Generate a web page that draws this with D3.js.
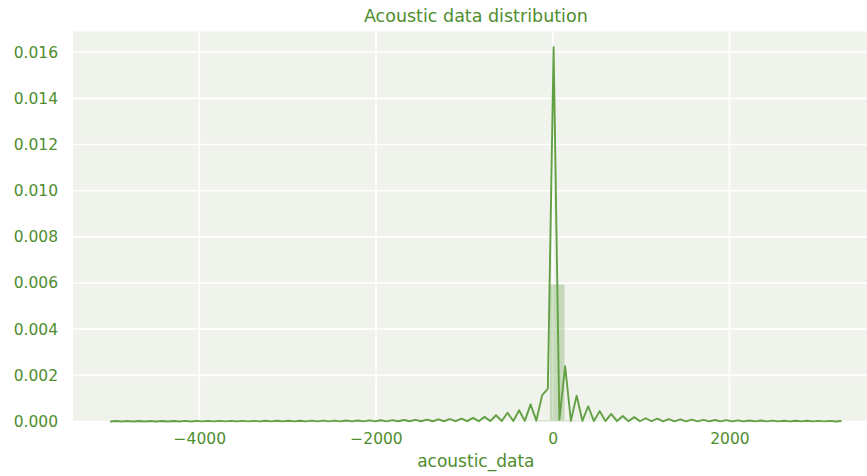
<!DOCTYPE html>
<html>
<head>
<meta charset="utf-8">
<script src="https://cdn.jsdelivr.net/npm/d3@7"></script>
<style>
  body { margin: 0; background: #fff; }
  text { font-family: "DejaVu Sans", sans-serif; fill: #4f8d2f; }
</style>
</head>
<body>
<svg id="chart" width="867" height="476"></svg>
<script>
// kde support: evenly spaced grid
const KDE_START = -5010;
const KDE_STEP = 65.2;
const kdeDensity = [
  0.000003, 0.000022, 0.000003, 0.000022, 0.000003, 0.000023, 0.000003, 0.000023,
  0.000003, 0.000024, 0.000003, 0.000024, 0.000003, 0.000025, 0.000003, 0.000025,
  0.000004, 0.000026, 0.000004, 0.000026, 0.000004, 0.000027, 0.000004, 0.000028,
  0.000004, 0.000029, 0.000004, 0.00003, 0.000005, 0.000031, 0.000005, 0.000032,
  0.000005, 0.000034, 0.000005, 0.000036, 0.000006, 0.000038, 0.000006, 0.00004,
  0.000006, 0.000043, 0.000007, 0.000046, 0.000007, 0.00005, 0.000008, 0.000054,
  0.000008, 0.000059, 0.000009, 0.000065, 0.00001, 0.000072, 0.00001, 0.00008,
  0.000011, 0.00009, 0.000012, 0.000105, 0.000013, 0.000125, 0.000014, 0.00016,
  0.000015, 0.0002, 0.000017, 0.00027, 0.00002, 0.00038, 0.000022, 0.00049,
  0.000025, 0.00074, 0.00004, 0.00113, 0.00142, 0.01622, 0.00008, 0.0024,
  0.00003, 0.00112, 0.000025, 0.00066, 0.00002, 0.00045, 0.000018, 0.00033,
  0.000016, 0.00024, 0.000014, 0.00019, 0.000012, 0.00014, 0.000011, 0.00012,
  0.00001, 0.000105, 0.000009, 0.000092, 0.000008, 0.000082, 0.000008, 0.000072,
  0.000007, 0.000064, 0.000007, 0.000057, 0.000006, 0.000051, 0.000006, 0.000046,
  0.000005, 0.000042, 0.000005, 0.000038, 0.000005, 0.000035, 0.000004, 0.000032,
  0.000004, 0.00003, 0.000004, 0.000028, 0.000004, 0.000026, 0.000003, 0.000024
];

// histogram: 50 bins
const BIN_START = -5015;
const BIN_WIDTH = 166.1;
const binDensity = [
  0, 0, 0, 0, 0, 0, 0, 0, 0, 0,
  0, 0, 0, 0, 0, 0, 0, 0, 0, 0,
  0.000001, 0.000001, 0.000002, 0.000002, 0.000003, 0.000004, 0.000005, 0.000008, 0.00001, 0.00005,
  0.00593, 0.00004, 0.00001, 0.000006, 0.000004, 0.000003, 0.000002, 0.000001, 0.000001, 0.000001,
  0, 0, 0, 0, 0, 0, 0, 0, 0, 0
];

const xTicks = [-4000, -2000, 0, 2000];
const yTicks = [0, 0.002, 0.004, 0.006, 0.008, 0.010, 0.012, 0.014, 0.016];
const X_DOMAIN = [-5430, 3705];
const Y_DOMAIN = [0, 0.016896];

var margin = {top: 31.5, right: -13, bottom: 54.5, left: 73},
    width = 867 - margin.left - margin.right,
    height = 476 - margin.top - margin.bottom,
    lineColor = "#62a044";

var svg = d3.select("#chart");

var x = d3.scaleLinear().domain(X_DOMAIN).range([0, width]),
    y = d3.scaleLinear().domain(Y_DOMAIN).range([height, 0]);

var g = svg.append("g")
    .attr("transform", "translate(" + margin.left + "," + margin.top + ")");

// panel background
g.append("rect")
    .attr("width", width)
    .attr("height", height)
    .attr("fill", "#f0f2ec");

// grid
g.selectAll("line.hgrid")
    .data(yTicks)
  .enter().append("line")
    .attr("class", "hgrid")
    .attr("x1", 0)
    .attr("x2", width)
    .attr("y1", y)
    .attr("y2", y)
    .attr("stroke", "#fff")
    .attr("stroke-width", 1.6);

g.selectAll("line.vgrid")
    .data(xTicks)
  .enter().append("line")
    .attr("class", "vgrid")
    .attr("x1", x)
    .attr("x2", x)
    .attr("y1", 0)
    .attr("y2", height)
    .attr("stroke", "#fff")
    .attr("stroke-width", 1.6);

// histogram bars
g.selectAll("rect.bar")
    .data(binDensity)
  .enter().append("rect")
    .attr("class", "bar")
    .attr("x", function(d, i) { return x(BIN_START + i * BIN_WIDTH); })
    .attr("width", function(d, i) { return x(BIN_START + (i + 1) * BIN_WIDTH) - x(BIN_START + i * BIN_WIDTH); })
    .attr("y", function(d) { return y(d); })
    .attr("height", function(d) { return height - y(d); })
    .attr("fill", lineColor)
    .attr("fill-opacity", 0.3);

// kde curve
var line = d3.line()
    .x(function(d, i) { return x(KDE_START + i * KDE_STEP); })
    .y(function(d) { return y(d); });

g.append("path")
    .datum(kdeDensity)
    .attr("d", line)
    .attr("fill", "none")
    .attr("stroke", lineColor)
    .attr("stroke-width", 1.9)
    .attr("stroke-linejoin", "round");

// axes, no domain or tick lines (seaborn style)
var xAxis = g.append("g")
    .attr("transform", "translate(0," + height + ")")
    .call(d3.axisBottom(x).tickValues(xTicks).tickSize(0).tickPadding(11).tickFormat(d3.format("d")));

var yAxis = g.append("g")
    .call(d3.axisLeft(y).tickValues(yTicks).tickSize(0).tickPadding(15).tickFormat(d3.format(".3f")));

[xAxis, yAxis].forEach(function(a) {
  a.select(".domain").remove();
  a.selectAll("text")
      .attr("fill", null)
      .style("font-size", "15.5px");
  a.attr("font-family", null).attr("font-size", null);
});

// title and label
svg.append("text")
    .attr("x", margin.left + x(-870))
    .attr("y", 21.5)
    .attr("text-anchor", "middle")
    .style("font-size", "17.5px")
    .text("Acoustic data distribution");

svg.append("text")
    .attr("x", margin.left + x(-870))
    .attr("y", 467)
    .attr("text-anchor", "middle")
    .style("font-size", "17px")
    .text("acoustic_data");
</script>
</body>
</html>
